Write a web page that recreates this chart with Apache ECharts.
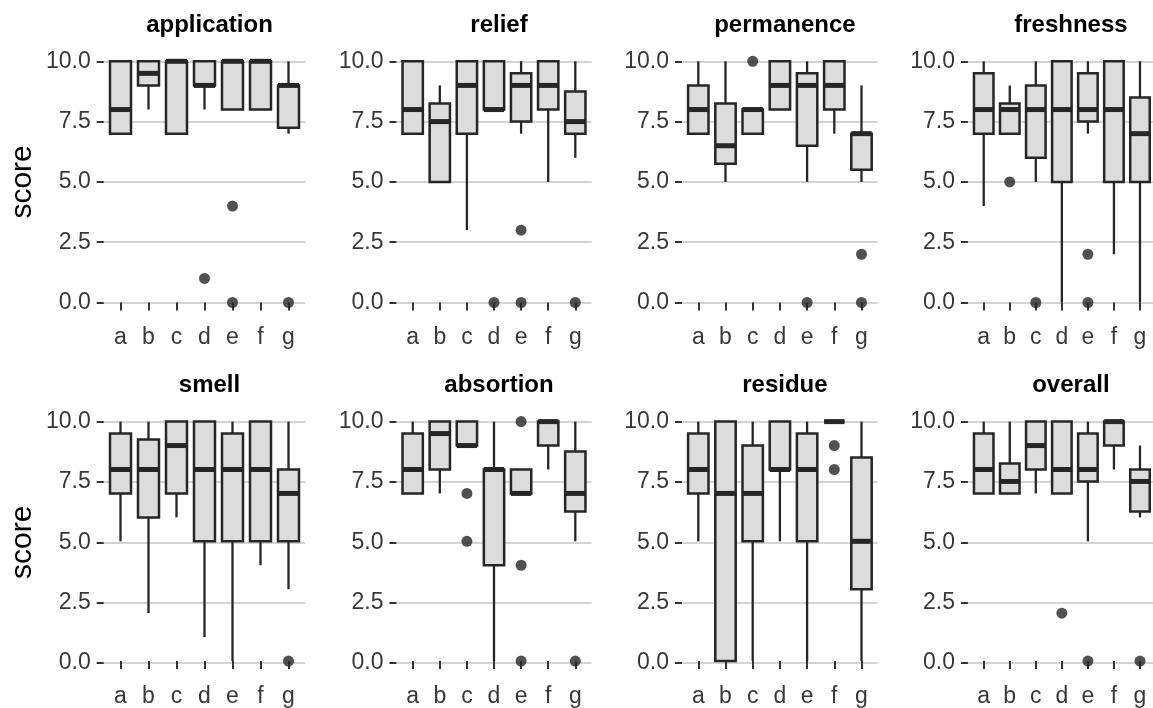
<!DOCTYPE html>
<html><head><meta charset="utf-8">
<script src="https://cdn.jsdelivr.net/npm/echarts@6/dist/echarts.min.js"></script>
<style>html,body{margin:0;padding:0;background:#fff;overflow:hidden}#c{width:1153px;height:708px}</style>
</head><body><div id="c"></div><script>
// ---- data ----
const categories = ['a','b','c','d','e','f','g'];
const panelTitles = ['application','relief','permanence','freshness','smell','absortion','residue','overall'];
const yTickStep = 2.5;
// each row: [min, Q1, median, Q3, max] for categories a..g
const application = [[7,7,8,10,10],[8,9,9.5,10,10],[7,7,10,10,10],[8,9,9,10,10],[8,8,10,10,10],[8,8,10,10,10],[7,7.25,9,9,10]];
const relief      = [[7,7,8,10,10],[5,5,7.5,8.25,9],[3,7,9,10,10],[8,8,8,10,10],[7,7.5,9,9.5,10],[5,8,9,10,10],[6,7,7.5,8.75,10]];
const permanence  = [[7,7,8,9,10],[5,5.75,6.5,8.25,10],[7,7,8,8,8],[8,8,9,10,10],[5,6.5,9,9.5,10],[7,8,9,10,10],[5,5.5,7,7,9]];
const freshness   = [[4,7,8,9.5,10],[7,7,8,8.25,9],[5,6,8,9,10],[0,5,8,10,10],[7,7.5,8,9.5,10],[2,5,8,10,10],[0,5,7,8.5,10]];
const smell       = [[5,7,8,9.5,10],[2,6,8,9.25,10],[6,7,9,10,10],[1,5,8,10,10],[0,5,8,9.5,10],[4,5,8,10,10],[3,5,7,8,10]];
const absortion   = [[7,7,8,9.5,10],[7,8,9.5,10,10],[9,9,9,10,10],[0,4,8,8,10],[7,7,7,8,8],[8,9,10,10,10],[5,6.25,7,8.75,10]];
const residue     = [[5,7,8,9.5,10],[0,0,7,10,10],[0,5,7,9,10],[5,8,8,10,10],[0,5,8,9.5,10],[10,10,10,10,10],[0,3,5,8.5,10]];
const overall     = [[7,7,8,9.5,10],[7,7,7.5,8.25,10],[7,8,9,10,10],[7,7,8,10,10],[5,7.5,8,9.5,10],[8,9,10,10,10],[6,6.25,7.5,8,9]];
// outliers: [category index, score]
const applicationOut = [[3,1],[4,4],[4,0],[6,0]];
const reliefOut      = [[3,0],[4,3],[4,0],[6,0]];
const permanenceOut  = [[2,10],[4,0],[6,2],[6,0]];
const freshnessOut   = [[1,5],[2,0],[4,2],[4,0]];
const smellOut       = [[6,0]];
const absortionOut   = [[2,7],[2,5],[4,10],[4,4],[4,0],[6,0]];
const residueOut     = [[5,9],[5,8]];
const overallOut     = [[3,2],[4,0],[6,0]];

const boxData = [application, relief, permanence, freshness, smell, absortion, residue, overall];
const outData = [applicationOut, reliefOut, permanenceOut, freshnessOut, smellOut, absortionOut, residueOut, overallOut];

// ---- layout ----
const colCenterA = [120.5, 412.7, 698.3, 984.3];
const colStep = [28, 27.1, 27.2, 27.2];
const rowTop = [61.3, 421.7];
const rowH = 241.2;          // height of the 0..10 range
const pad = rowH / 20;       // 0.5 score units of expansion
const FONT = '"Liberation Sans", Arial, Helvetica, sans-serif';
const INK = '#262626';
const LBL = '#383838';

const grid = [], xAxis = [], yAxis = [], series = [], title = [];
for (let p = 0; p < 8; p++) {
  const r = Math.floor(p / 4), c = p % 4;
  const s = colStep[c], a = colCenterA[c];
  const top = rowTop[r];
  // background panel (expanded horizontal range): grid lines + y axis
  grid.push({left: a - 0.6 * s, width: 7.2 * s, top: top, height: rowH, containLabel: false});
  // data panel (expanded vertical range -0.5..10.5)
  grid.push({left: a - 0.5 * s, width: 7 * s, top: top - pad, height: rowH + 2 * pad, containLabel: false});
  const gb = 2 * p, gd = 2 * p + 1;
  xAxis.push({gridIndex: gb, type: 'value', min: 0, max: 1, show: false});
  xAxis.push({gridIndex: gd, type: 'category', data: categories,
    axisLine: {show: false},
    axisTick: {show: true, alignWithLabel: true, length: 8, lineStyle: {color: '#333', width: 2}},
    axisLabel: {fontSize: 23, color: LBL, fontFamily: FONT, margin: 12, interval: 0},
    splitLine: {show: false}});
  yAxis.push({gridIndex: gb, type: 'value', min: 0, max: 10, interval: yTickStep,
    name: c === 0 ? 'score' : '', nameLocation: 'middle', nameGap: 66,
    nameTextStyle: {fontSize: 30, color: '#000', fontFamily: FONT},
    axisLine: {show: false},
    axisTick: {show: true, length: 7, lineStyle: {color: '#333', width: 2}},
    axisLabel: {fontSize: 23, color: LBL, fontFamily: FONT, margin: 13,
      formatter: v => v.toFixed(1)},
    splitLine: {show: true, lineStyle: {color: '#d4d4d4', width: 2}}});
  yAxis.push({gridIndex: gd, type: 'value', min: -0.5, max: 10.5, show: false, splitLine: {show: false}});
  title.push({text: panelTitles[p], left: a + 3 * s, top: top - 53, textAlign: 'center',
    textStyle: {fontSize: 24, fontWeight: 'bold', color: '#000', fontFamily: FONT}});
  series.push({
    type: 'custom', xAxisIndex: gd, yAxisIndex: gd, z: 3,
    encode: {x: 0, y: [1, 2, 3, 4, 5]},
    data: boxData[p].map((d, i) => [i].concat(d)),
    renderItem: function (params, api) {
      const x = api.value(0);
      const lo = api.coord([x, api.value(1)]);
      const q1 = api.coord([x, api.value(2)]);
      const md = api.coord([x, api.value(3)]);
      const q3 = api.coord([x, api.value(4)]);
      const hi = api.coord([x, api.value(5)]);
      const bw = api.size([1, 0])[0] * 0.75;
      const cx = q1[0];
      const ls = {stroke: INK, lineWidth: 2.3};
      return {type: 'group', children: [
        {type: 'line', shape: {x1: cx, y1: hi[1], x2: cx, y2: q3[1]}, style: ls},
        {type: 'line', shape: {x1: cx, y1: q1[1], x2: cx, y2: lo[1]}, style: ls},
        {type: 'rect', shape: {x: cx - bw / 2, y: q3[1], width: bw, height: q1[1] - q3[1]},
          style: {fill: '#dcdcdc', stroke: INK, lineWidth: 2.5}},
        {type: 'line', shape: {x1: cx - bw / 2, y1: md[1], x2: cx + bw / 2, y2: md[1]},
          style: {stroke: INK, lineWidth: 5}}
      ]};
    }
  });
  series.push({type: 'scatter', xAxisIndex: gd, yAxisIndex: gd, z: 4, clip: false,
    symbol: 'circle', symbolSize: 11, itemStyle: {color: INK}, data: outData[p]});
}

const chart = echarts.init(document.getElementById('c'), null, {renderer: 'canvas'});
chart.setOption({animation: false, backgroundColor: '#fff', title, grid, xAxis, yAxis, series, tooltip: {show: false}});
</script></body></html>
